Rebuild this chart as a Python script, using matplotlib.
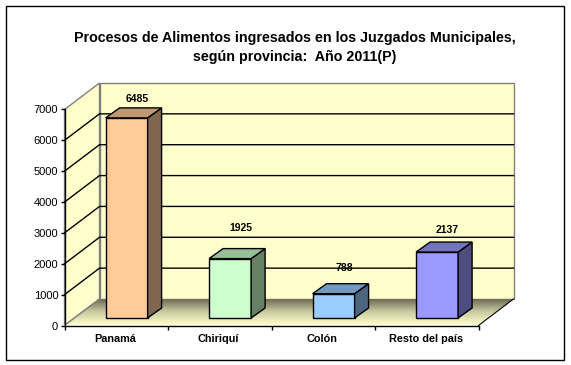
import numpy as np
import matplotlib
matplotlib.use('Agg')
import matplotlib.pyplot as plt
from matplotlib.patches import Polygon, Rectangle
from matplotlib.colors import LinearSegmentedColormap, to_rgb

categories = ['Panamá', 'Chiriquí', 'Colón', 'Resto del país']
values = [6485, 1925, 788, 2137]
value_labels = ['6485', '1925', '788', '2137']
label_gaps_px = [9, 21, 16, 12]
colors = ['#FFCC99', '#CCFFCC', '#99CCFF', '#9999FF']
yticks = [0, 1000, 2000, 3000, 4000, 5000, 6000, 7000]
title = 'Procesos de Alimentos ingresados en los Juzgados Municipales,\nsegún provincia:  Año 2011(P)'

W, H = 571, 365
plt.rcParams['font.family'] = ['Liberation Sans', 'DejaVu Sans']
fig = plt.figure(figsize=(W / 100, H / 100), dpi=100, facecolor='white')
fig.add_artist(Rectangle((5.5 / W, 1 - 359.5 / H), 558.5 / W, 354 / H, transform=fig.transFigure,
                         fc='none', ec='black', lw=1, zorder=-1))

L, R, B, T = 64.5, 478.5, 325.5, 109.5
ax = fig.add_axes([L / W, 1 - B / H, (R - L) / W, (B - T) / H])
n = len(categories)
ax.set_xlim(0, n)
ax.set_ylim(0, 7000)
ax.patch.set_visible(False)

xpx = (R - L) / n
ypx = (B - T) / 7000
wall_dx, wall_dy = 35 / xpx, 26.5 / ypx
wall = '#FFFFCC'
grey = '#808080'

# back and side walls
ax.add_patch(Polygon([(wall_dx, wall_dy), (n + wall_dx, wall_dy), (n + wall_dx, 7000 + wall_dy),
                      (wall_dx, 7000 + wall_dy)], fc=wall, ec=grey, lw=1, clip_on=False, zorder=1))
ax.add_patch(Polygon([(0, 0), (wall_dx, wall_dy), (wall_dx, 7000 + wall_dy), (0, 7000)],
                     fc=wall, ec=grey, lw=1, clip_on=False, zorder=1))

# gridlines along the walls
for v in yticks[1:-1]:
    ax.plot([0, wall_dx, n + wall_dx], [v, v + wall_dy, v + wall_dy], color='black', lw=1,
            clip_on=False, zorder=2, solid_joinstyle='miter')

# floor with gradient
floor = Polygon([(0, 0), (n, 0), (n + wall_dx, wall_dy), (wall_dx, wall_dy)], fc='none', ec='none',
                transform=ax.transData, clip_on=False)
ax.add_patch(floor)
cmap = LinearSegmentedColormap.from_list('floor', ['#FFFFCC', '#C9C9A1', '#66664F'])
im = ax.imshow(np.linspace(0, 1, 64)[:, None], extent=(0, n + wall_dx, 0, wall_dy), origin='lower',
               cmap=cmap, aspect='auto', zorder=3)
im.set_clip_box(fig.bbox)
im.set_clip_path(floor)
ax.set_xlim(0, n)
ax.set_ylim(0, 7000)
ax.plot([n, n + wall_dx], [0, wall_dy], color='black', lw=0.8, clip_on=False, zorder=3.5)
ax.plot([0, wall_dx], [0, wall_dy], color=grey, lw=1, clip_on=False, zorder=3.5)

# 3D bars
bar_w = 42 / xpx
dep_x, dep_y = 14 / xpx, 10 / ypx
base = 7.5 / ypx
for i, (v, lab, gap, c) in enumerate(zip(values, value_labels, label_gaps_px, colors)):
    x0 = i + 0.5 + 0.1 - bar_w / 2
    x1 = x0 + bar_w
    y0, y1 = base, base + v
    rgb = np.array(to_rgb(c))
    kw = dict(ec='black', lw=1, clip_on=False, zorder=5, joinstyle='miter')
    ax.add_patch(Polygon([(x0, y0), (x1, y0), (x1, y1), (x0, y1)], fc=rgb, **kw))
    ax.add_patch(Polygon([(x1, y0), (x1 + dep_x, y0 + dep_y), (x1 + dep_x, y1 + dep_y), (x1, y1)],
                         fc=rgb * 0.5, **kw))
    ax.add_patch(Polygon([(x0, y1), (x1, y1), (x1 + dep_x, y1 + dep_y), (x0 + dep_x, y1 + dep_y)],
                         fc=rgb * 0.75, **kw))
    ax.annotate(lab, ((x0 + x1 + dep_x) / 2, y1 + dep_y), xytext=(2.5, gap * 0.72), textcoords='offset points',
                ha='center', va='center', fontsize=7.5, fontweight='bold', zorder=6, annotation_clip=False)

# axes
for s in ['top', 'right']:
    ax.spines[s].set_visible(False)
ax.spines['left'].set_linewidth(1)
ax.spines['bottom'].set_linewidth(1)
ax.spines['left'].set_zorder(4)
ax.spines['bottom'].set_zorder(4)
ax.set_yticks(yticks)
ax.set_yticklabels([str(v) for v in yticks], fontsize=8)
ax.set_xticks(range(n + 1))
ax.set_xticklabels([''] * (n + 1))
ax.tick_params(axis='y', length=3, width=1, pad=1.5)
ax.tick_params(axis='x', length=3, width=1, direction='out')
for i, c in enumerate(categories):
    ax.annotate(c, (i + 0.5, 0), xytext=(-0.8, -6), textcoords='offset points', ha='center', va='top',
                fontsize=7.8, fontweight='bold', annotation_clip=False)

fig.text(295 / W, 1 - 47.5 / H, title, ha='center', va='center', fontsize=10.3, fontweight='bold',
         linespacing=1.4)
fig.savefig('out.png', dpi=100)
